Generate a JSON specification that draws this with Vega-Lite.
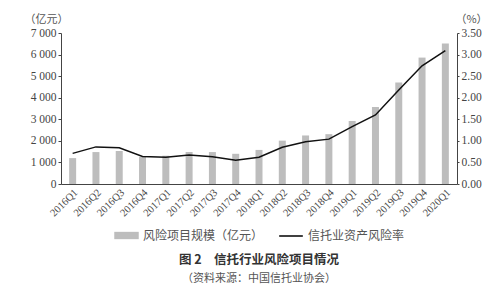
{
  "$schema": "https://vega.github.io/schema/vega-lite/v6.json",
  "width": 396,
  "height": 151,
  "autosize": {"type": "none"},
  "padding": {"left": 61, "top": 33, "right": 42, "bottom": 104},
  "background": "white",
  "data": {"values": [
    {"q": "2016Q1", "scale": 1200, "rate": 0.71},
    {"q": "2016Q2", "scale": 1480, "rate": 0.86},
    {"q": "2016Q3", "scale": 1530, "rate": 0.84},
    {"q": "2016Q4", "scale": 1260, "rate": 0.64},
    {"q": "2017Q1", "scale": 1310, "rate": 0.62},
    {"q": "2017Q2", "scale": 1480, "rate": 0.67},
    {"q": "2017Q3", "scale": 1480, "rate": 0.63},
    {"q": "2017Q4", "scale": 1400, "rate": 0.55},
    {"q": "2018Q1", "scale": 1580, "rate": 0.62},
    {"q": "2018Q2", "scale": 2010, "rate": 0.85},
    {"q": "2018Q3", "scale": 2250, "rate": 0.98},
    {"q": "2018Q4", "scale": 2310, "rate": 1.04},
    {"q": "2019Q1", "scale": 2920, "rate": 1.33},
    {"q": "2019Q2", "scale": 3570, "rate": 1.60},
    {"q": "2019Q3", "scale": 4710, "rate": 2.18},
    {"q": "2019Q4", "scale": 5860, "rate": 2.74},
    {"q": "2020Q1", "scale": 6510, "rate": 3.09}
  ]},
  "title": {
    "text": "图 2　信托行业风险项目情况",
    "subtitle": "（资料来源：中国信托业协会）",
    "orient": "bottom",
    "anchor": "middle",
    "offset": 12,
    "font": "Noto Sans CJK SC",
    "fontSize": 12.5,
    "fontWeight": "bold",
    "color": "#333",
    "subtitleFont": "Noto Sans CJK SC",
    "subtitleFontSize": 11,
    "subtitleColor": "#555",
    "subtitlePadding": 6
  },
  "config": {
    "view": {"stroke": null},
    "axis": {
      "labelFont": "Liberation Serif",
      "labelFontSize": 11.5,
      "labelColor": "#444",
      "domainColor": "#444",
      "tickColor": "#444",
      "grid": false,
      "titleFont": "Noto Sans CJK SC",
      "titleFontWeight": "normal",
      "titleFontSize": 11,
      "titleColor": "#555"
    },
    "legend": {
      "labelFont": "Noto Sans CJK SC",
      "labelFontSize": 12,
      "labelColor": "#555",
      "orient": "bottom",
      "direction": "horizontal",
      "layout": {"bottom": {"anchor": "middle", "margin": 14, "offset": 4}}
    }
  },
  "layer": [
    {
      "mark": {"type": "bar", "color": "#bdbdbd"},
      "encoding": {
        "x": {
          "field": "q", "type": "ordinal", "sort": null,
          "scale": {"paddingInner": 0.7, "paddingOuter": 0.35},
          "axis": {"title": null, "labelAngle": -45, "ticks": false, "labelFontSize": 10.5, "labelPadding": 3}
        },
        "y": {
          "field": "scale", "type": "quantitative",
          "scale": {"domain": [0, 7000]},
          "axis": {
            "values": [0, 1000, 2000, 3000, 4000, 5000, 6000, 7000],
            "labelExpr": "replace(format(datum.value, ','), ',', ' ')",
            "tickSize": 3,
            "labelPadding": 2,
            "title": "（亿元）",
            "titleAngle": 0,
            "titleAlign": "center",
            "titleBaseline": "bottom",
            "titleX": -15,
            "titleY": -9
          }
        },
        "fill": {
          "datum": "风险项目规模（亿元）",
          "scale": {"range": ["#bdbdbd"]},
          "legend": {"title": null, "symbolType": "M-1,-0.3H1V0.3H-1Z", "symbolSize": 600, "symbolStrokeWidth": 0, "labelOffset": 4}
        }
      }
    },
    {
      "mark": {"type": "line", "color": "#111", "strokeWidth": 1.5},
      "encoding": {
        "x": {"field": "q", "type": "ordinal", "sort": null},
        "y": {
          "field": "rate", "type": "quantitative",
          "scale": {"domain": [0, 3.5]},
          "axis": {
            "orient": "right",
            "values": [0, 0.5, 1, 1.5, 2, 2.5, 3, 3.5],
            "format": ".2f",
            "tickSize": 2,
            "labelPadding": 2,
            "title": "（%）",
            "titleAngle": 0,
            "titleAlign": "center",
            "titleBaseline": "bottom",
            "titleX": 14,
            "titleY": -9
          }
        },
        "stroke": {
          "datum": "信托业资产风险率",
          "scale": {"range": ["#111"]},
          "legend": {"title": null, "symbolType": "stroke", "symbolSize": 560, "symbolStrokeWidth": 1.6, "labelOffset": 4}
        }
      }
    }
  ],
  "resolve": {"scale": {"y": "independent"}}
}
